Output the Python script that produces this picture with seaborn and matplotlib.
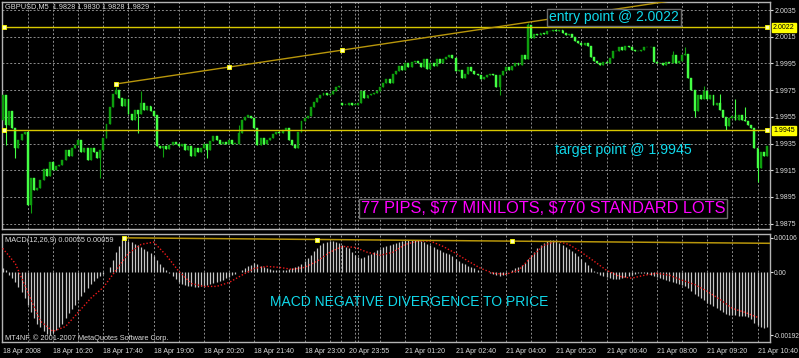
import numpy as np
import pandas as pd
import matplotlib
matplotlib.use("Agg")
import matplotlib.pyplot as plt
import seaborn as sns

# GBPUSD M5 closes, one per bar
closes = [
    1.9971, 1.9949, 1.9959, 1.9947, 1.9932, 1.9938, 1.9942, 1.9944, 1.9889, 1.9909,
    1.9900, 1.9902, 1.9908, 1.9916, 1.9911, 1.9921, 1.9915, 1.9918, 1.9919, 1.9923,
    1.9930, 1.9926, 1.9932, 1.9934, 1.9938, 1.9929, 1.9932, 1.9923, 1.9932, 1.9929,
    1.9924, 1.9930, 1.9939, 1.9950, 1.9962, 1.9972, 1.9975, 1.9969, 1.9963, 1.9968,
    1.9957, 1.9953, 1.9960, 1.9957, 1.9965, 1.9960, 1.9963, 1.9959, 1.9956, 1.9933,
    1.9932, 1.9933, 1.9931, 1.9934, 1.9936, 1.9935, 1.9933, 1.9935, 1.9930, 1.9933,
    1.9926, 1.9932, 1.9929, 1.9932, 1.9935, 1.9930, 1.9937, 1.9941, 1.9938, 1.9935,
    1.9936, 1.9935, 1.9938, 1.9935, 1.9935, 1.9943, 1.9953, 1.9955, 1.9956, 1.9954,
    1.9947, 1.9934, 1.9939, 1.9935, 1.9938, 1.9939, 1.9942, 1.9944, 1.9943, 1.9945,
    1.9947, 1.9938, 1.9934, 1.9932, 1.9944, 1.9952, 1.9954, 1.9956, 1.9962, 1.9966,
    1.9969, 1.9971, 1.9973, 1.9971, 1.9972, 1.9974, 1.9977, 1.9978, 1.9964, 1.9964,
    1.9965, 1.9964, 1.9964, 1.9965, 1.9974, 1.9969, 1.9971, 1.9972, 1.9973, 1.9974,
    1.9977, 1.9980, 1.9983, 1.9980, 1.9987, 1.9989, 1.9993, 1.9990, 1.9995, 1.9992,
    1.9996, 1.9997, 1.9995, 1.9992, 1.9998, 1.9991, 1.9995, 1.9993, 1.9998, 1.9995,
    1.9998, 2.0000, 2.0001, 1.9999, 1.9989, 1.9990, 1.9984, 1.9987, 1.9992, 1.9989,
    1.9987, 1.9986, 1.9983, 1.9985, 1.9986, 1.9987, 1.9986, 1.9977, 1.9986, 1.9989,
    1.9992, 1.9990, 1.9993, 1.9995, 1.9994, 2.0001, 1.9998, 2.0024, 2.0014, 2.0017,
    2.0016, 2.0018, 2.0017, 2.0019, 2.0019, 2.0020, 2.0019, 2.0020, 2.0018, 2.0016,
    2.0017, 2.0015, 2.0012, 2.0010, 2.0009, 2.0010, 2.0008, 2.0000, 1.9997, 1.9995,
    1.9994, 1.9996, 1.9995, 1.9999, 2.0004, 2.0004, 2.0007, 2.0005, 2.0008, 2.0007,
    2.0005, 2.0004, 2.0004, 2.0005, 2.0007, 2.0007, 2.0007, 1.9996, 1.9995, 1.9995,
    1.9994, 1.9996, 1.9995, 2.0001, 1.9995, 1.9997, 2.0001, 2.0002, 1.9984, 1.9975,
    1.9959, 1.9971, 1.9968, 1.9974, 1.9968, 1.9971, 1.9964, 1.9965, 1.9960, 1.9955,
    1.9948, 1.9954, 1.9956, 1.9953, 1.9956, 1.9953, 1.9952, 1.9949, 1.9947, 1.9932,
    1.9917, 1.9929, 1.9926, 1.9933,
]
# opens that differ from the previous close (first bar, Sunday open)
gap_opens = {0: 1.9953, 108: 1.9965}
# visible shadows beyond the body
wick_high = {36: 1.9977, 44: 1.9974, 75: 1.9949, 167: 2.0025, 213: 2.0004,
             217: 2.0007, 223: 1.9978, 228: 1.9972, 233: 1.9968, 236: 1.9962}
wick_low = {1: 1.9934, 4: 1.9924, 9: 1.9883, 31: 1.9909, 43: 1.9943, 51: 1.9925,
            65: 1.9924, 158: 1.9971, 220: 1.9955, 230: 1.9945, 240: 1.9906}

# MACD(12,26,9) main histogram, units of 0.00001
macd_main = [
    12, 6, -9, -18, -31, -46, -61, -79, -101, -122,
    -140, -156, -168, -180, -189, -192, -186, -177, -168, -156,
    -140, -125, -113, -101, -85, -73, -61, -49, -37, -27,
    -18, -12, -6, 1, 15, 37, 61, 79, 101, 106,
    95, 92, 85, 82, 76, 70, 64, 58, 49, 37,
    24, 15, 6, -3, -12, -21, -31, -37, -40, -43,
    -43, -46, -46, -43, -43, -40, -37, -34, -31, -27,
    -24, -18, -15, -9, -6, 0, 6, 12, 18, 21,
    27, 24, 18, 15, 12, 9, 6, 6, 6, 6,
    6, 9, 12, 15, 18, 24, 34, 43, 52, 64,
    73, 82, 88, 92, 95, 95, 92, 88, 82, 76,
    73, 61, 52, 46, 43, 46, 52, 55, 61, 67,
    70, 76, 79, 82, 85, 88, 92, 95, 98, 98,
    98, 98, 98, 95, 92, 85, 82, 76, 70, 67,
    61, 58, 55, 49, 40, 34, 27, 24, 18, 15,
    12, 6, 3, 0, 0, -3, -6, -9, -12, -9,
    -6, 0, 6, 12, 15, 21, 27, 40, 52, 61,
    73, 82, 88, 95, 98, 98, 95, 88, 82, 76,
    70, 64, 58, 49, 40, 31, 21, 12, 3, -3,
    -9, -12, -15, -18, -21, -21, -21, -18, -15, -12,
    -9, -6, -3, -3, -3, -6, -9, -12, -15, -18,
    -21, -24, -27, -31, -34, -37, -40, -43, -49, -58,
    -67, -73, -79, -85, -92, -98, -104, -110, -116, -122,
    -128, -131, -131, -131, -134, -134, -134, -137, -143, -153,
    -162, -168, -171, -168,
]
# signal line, read every 4 bars, units of 0.00001
signal_every = 4
macd_signal = [
    73, 27, -61, -149, -180, -165, -122, -79, -46, 6,
    58, 85, 92, 52, 3, -34, -43, -43, -31, -9,
    12, 18, 15, 9, 15, 34, 61, 79, 76, 61,
    52, 61, 85, 95, 95, 79, 58, 34, 12, -3,
    -6, 6, 46, 82, 95, 85, 61, 34, 6, -12,
    -18, -9, -3, -9, -24, -37, -58, -82, -110, -122,
    -137,
]

time_ticks = [0, 16, 32, 48, 64, 80, 96, 110, 128, 144, 160, 176, 192, 208, 224, 240]
time_labels = ["18 Apr 2008", "18 Apr 16:20", "18 Apr 17:40", "18 Apr 19:00",
               "18 Apr 20:20", "18 Apr 21:40", "18 Apr 23:00", "20 Apr 23:55",
               "21 Apr 01:20", "21 Apr 02:40", "21 Apr 04:00", "21 Apr 05:20",
               "21 Apr 06:40", "21 Apr 08:00", "21 Apr 09:20", "21 Apr 10:40"]
price_ticks = [2.0035, 2.0015, 1.9995, 1.9975, 1.9955, 1.9935, 1.9915, 1.9895, 1.9875]
day_separators = [107.6, 113]
macd_ticks = [0.00106, 0.0, -0.00192]
macd_tick_labels = ["0.00106", "0.00", "-0.00192"]

entry_price = 2.0022
target_price = 1.9945
trend_bars = [36, 72, 108]
trend_prices = [1.99796, 1.99923, 2.00050]
macd_trend_bars = [38.5, 100, 162]
macd_trend_vals = [0.00105, 0.00099, 0.00095]

# ---- build candles ----
df = pd.DataFrame({"close": closes})
df["open"] = df["close"].shift(1)
for k, v in gap_opens.items():
    df.loc[k, "open"] = v
df["high"] = df[["open", "close"]].max(axis=1)
df["low"] = df[["open", "close"]].min(axis=1)
for k, v in wick_high.items():
    df.loc[k, "high"] = max(df.loc[k, "high"], v)
for k, v in wick_low.items():
    df.loc[k, "low"] = min(df.loc[k, "low"], v)
bull = df["close"] >= df["open"]
candle_colors = np.where(bull, "#0e9e0e", "#44ff44")

GRID = "#8c8c8c"
CYAN = "#10d8ea"
LINE_Y = "#d8c800"
TREND = "#b8960b"
TXT = "#dcdcdc"

sns.set_style("dark", {"axes.facecolor": "black", "figure.facecolor": "black"})
plt.rcParams["font.family"] = ["Liberation Sans", "DejaVu Sans"]

fig = plt.figure(figsize=(7.99, 3.58), dpi=100)
fig.patch.set_facecolor("black")
ax1 = fig.add_axes([2 / 799, 1 - 229 / 358, 768 / 799, 227 / 358])
ax2 = fig.add_axes([2 / 799, 1 - 342 / 358, 768 / 799, 108 / 358])

n = len(df)
xlim = (-0.22, 243.97)

for ax in (ax1, ax2):
    ax.set_facecolor("black")
    ax.set_xlim(*xlim)
    for s in ax.spines.values():
        s.set_color("#b4b4b4")
        s.set_linewidth(1)
    for b in list(range(8, n, 8)) + day_separators:
        ax.axvline(b, color=GRID, ls=(0, (2, 2)), lw=0.7, zorder=0)

# ---- price panel ----
ax1.set_ylim(1.98710, 2.00410)
for p in price_ticks:
    ax1.axhline(p, color=GRID, ls=(0, (2, 2)), lw=0.7, zorder=0)

body_h = np.maximum((df["close"] - df["open"]).abs(), 0.00004)
ax1.vlines(df.index, df["low"], df["high"], colors=candle_colors, lw=0.8, zorder=2)
ax1.bar(df.index, body_h, bottom=df[["open", "close"]].min(axis=1), width=0.62,
        color=candle_colors, edgecolor=candle_colors, linewidth=0.3, zorder=3)

for p in (entry_price, target_price):
    ax1.axhline(p, color=LINE_Y, lw=1, zorder=4)
    ax1.plot([0.4, n - 1], [p, p], "s", ms=3.2, mfc="#ffffb0", mec="#ffff00",
             mew=0.6, zorder=5, clip_on=False)
    ax1.text(1.004, p, f"{p:.4f}", transform=ax1.get_yaxis_transform(),
             ha="left", va="center", fontsize=5.0, color="black",
             bbox=dict(facecolor="#ffff00", edgecolor="#ffff00", pad=0.6))

slope = (trend_prices[-1] - trend_prices[0]) / (trend_bars[-1] - trend_bars[0])
tx = [trend_bars[0], xlim[1]]
ty = [trend_prices[0], trend_prices[0] + slope * (xlim[1] - trend_bars[0])]
sns.lineplot(x=tx, y=ty, ax=ax1, color=TREND, lw=1, zorder=4)
ax1.plot(trend_bars, trend_prices, "s", ms=3.2, mfc="#ffffb0", mec="#ffff00",
         mew=0.6, zorder=5)

ax1.yaxis.tick_right()
ax1.set_yticks(price_ticks)
ax1.set_yticklabels([f"{p:.4f}" for p in price_ticks])
ax1.tick_params(axis="y", colors=TXT, labelsize=5.0, length=2, pad=1)
ax1.tick_params(axis="x", bottom=False, labelbottom=False)
ax1.set_xlabel("")
ax1.set_ylabel("")

box = dict(boxstyle="square,pad=0.12", facecolor="black", edgecolor="#6c6c6c", lw=1)
ax1.text(173.7, 2.00294, "entry point @ 2.0022", color=CYAN, fontsize=10,
         ha="left", va="center", bbox=box, zorder=6)
ax1.text(175.6, 1.99301, "target point @ 1.9945", color=CYAN, fontsize=10.2,
         ha="left", va="center", zorder=6)
ax1.text(113.8, 1.98867, r"77 PIPS, \$77 MINILOTS, \$770 STANDARD LOTS",
         color="#ff00ff", fontsize=11.8, ha="left", va="center", bbox=box, zorder=6)

# ---- MACD panel ----
ax2.set_ylim(-0.002123, 0.001167)
macd_x = np.arange(len(macd_main))
ax2.vlines(macd_x, 0, np.array(macd_main) * 1e-5, colors="#c6c6c6", lw=0.9, zorder=2)
sig_x = np.arange(len(macd_signal)) * signal_every
sns.lineplot(x=sig_x, y=np.array(macd_signal) * 1e-5, ax=ax2, color="#ee1a1a",
             lw=1, linestyle=(0, (1, 1.4)), zorder=3)

mslope = (macd_trend_vals[-1] - macd_trend_vals[0]) / (macd_trend_bars[-1] - macd_trend_bars[0])
mx = [macd_trend_bars[0], xlim[1]]
my = [macd_trend_vals[0], macd_trend_vals[0] + mslope * (xlim[1] - macd_trend_bars[0])]
sns.lineplot(x=mx, y=my, ax=ax2, color=TREND, lw=1.1, zorder=4)
ax2.plot(macd_trend_bars, macd_trend_vals, "s", ms=3.2, mfc="#ffffb0",
         mec="#ffff00", mew=0.6, zorder=5)

ax2.yaxis.tick_right()
ax2.set_yticks(macd_ticks)
ax2.set_yticklabels(macd_tick_labels)
ax2.tick_params(axis="y", colors=TXT, labelsize=4.8, length=2, pad=1)
ax2.set_xticks(time_ticks)
ax2.set_xticklabels(time_labels, ha="left")
ax2.tick_params(axis="x", colors=TXT, labelsize=5.0, length=3, pad=1.5,
                direction="out")
ax2.set_xlabel("")
ax2.set_ylabel("")

ax2.text(85, -0.00091, "MACD NEGATIVE DIVERGENCE TO PRICE", color=CYAN,
         fontsize=10, ha="left", va="center", zorder=6)

fig.text(5 / 799, 1 - 7 / 358, "GBPUSD,M5  1.9828 1.9830 1.9828 1.9829",
         color=TXT, fontsize=5.3, va="center", ha="left")
fig.text(5 / 799, 1 - 240 / 358, "MACD(12,26,9) 0.00055 0.00059",
         color=TXT, fontsize=5.3, va="center", ha="left")
fig.text(5 / 799, 1 - 338 / 358, "MT4NF, \u00a9 2001-2007 MetaQuotes Software Corp.",
         color=TXT, fontsize=5.3, va="center", ha="left")

fig.savefig("out.png", dpi=100, facecolor="black")
